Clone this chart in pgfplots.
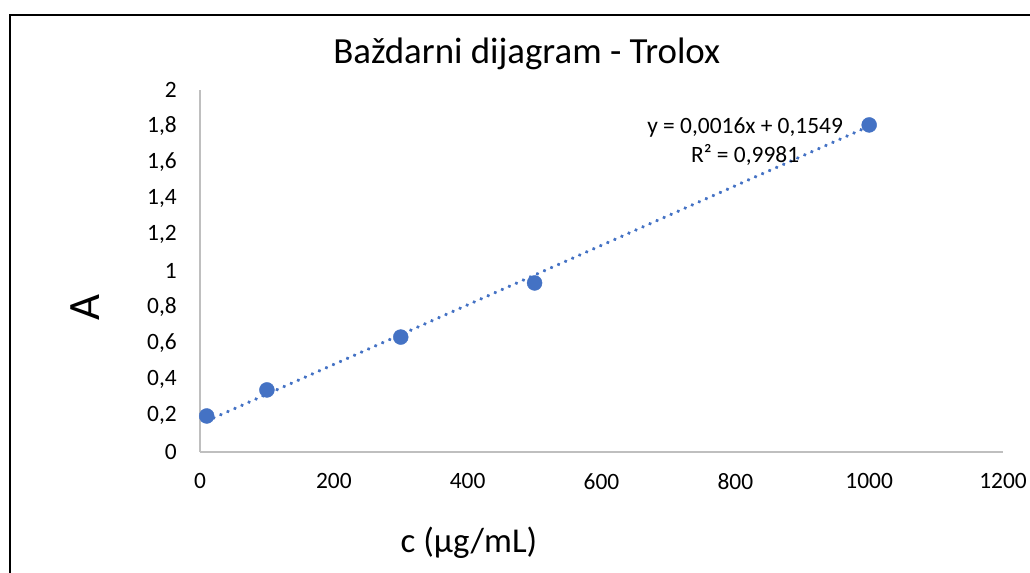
\documentclass[border=0pt]{standalone}
\usepackage{fontspec}
\setmainfont{Carlito}
\usepackage{pgfplots}
\pgfplotsset{compat=1.18}
\definecolor{xlblue}{HTML}{4472C4}
\definecolor{axgray}{HTML}{BFBFBF}
\begin{document}
\begin{tikzpicture}
\clip (-200bp,-121bp) rectangle (830bp,452bp);
\useasboundingbox (-200bp,-121bp) rectangle (830bp,452bp);
\draw[line width=2.5bp] (-190bp,-300bp) -- (-190bp,437bp) -- (1000bp,437bp);
\begin{axis}[
  at={(0,0)}, anchor=south west,
  scale only axis, width=803bp, height=362bp,
  xmin=0, xmax=1200, ymin=0, ymax=2,
  xtick={0,200,400,600,800,1000,1200},
  ytick={0,0.2,0.4,0.6,0.8,1,1.2,1.4,1.6,1.8,2},
  axis x line=bottom, axis y line=left,
  axis line style={axgray, line width=1.2bp, -},
  major tick length=0pt,
  /pgf/number format/.cd, use comma, 1000 sep={}, assume math mode=true,
  /pgfplots/.cd,
  ticklabel style={font=\fontsize{23.5}{23.5}\selectfont, inner sep=0pt},
  yticklabel style={anchor=east, xshift=-23bp},
  xticklabel style={anchor=north, yshift=-21bp},
  title={Baždarni dijagram - Trolox},
  title style={font=\fontsize{37}{37}\selectfont, at={(axis description cs:0.407,1)}, anchor=base, yshift=21bp, inner sep=0pt},
  xlabel={c (µg/mL)},
  xlabel style={font=\fontsize{35}{35}\selectfont, at={(axis description cs:0.335,0)}, anchor=base, yshift=-100bp, inner sep=0pt},
  ylabel={A},
  ylabel style={font=\fontsize{45}{45}\selectfont, at={(axis description cs:-0.1432,0.398)}, anchor=center, inner sep=0pt},
  clip=false,
]
\addplot[xlblue, line width=3.5bp, line cap=round, dash pattern=on 0.3bp off 7.4bp] coordinates {(10,0.1714) (1000,1.7999)};
\addplot[only marks, mark=*, mark size=7.5bp, mark options={fill=xlblue, draw=xlblue}] coordinates {
(10,0.199) (100,0.343) (300,0.635) (500,0.934) (1000,1.807)};
\node[anchor=base, font=\fontsize{23.5}{23.5}\selectfont, inner sep=0pt] at (axis cs:814.6,1.762) {y = 0,0016x + 0,1549};
\node[anchor=base, font=\fontsize{23.5}{23.5}\selectfont, inner sep=0pt] at (axis cs:814.6,1.602) {R² = 0,9981};
\end{axis}
\end{tikzpicture}
\end{document}
